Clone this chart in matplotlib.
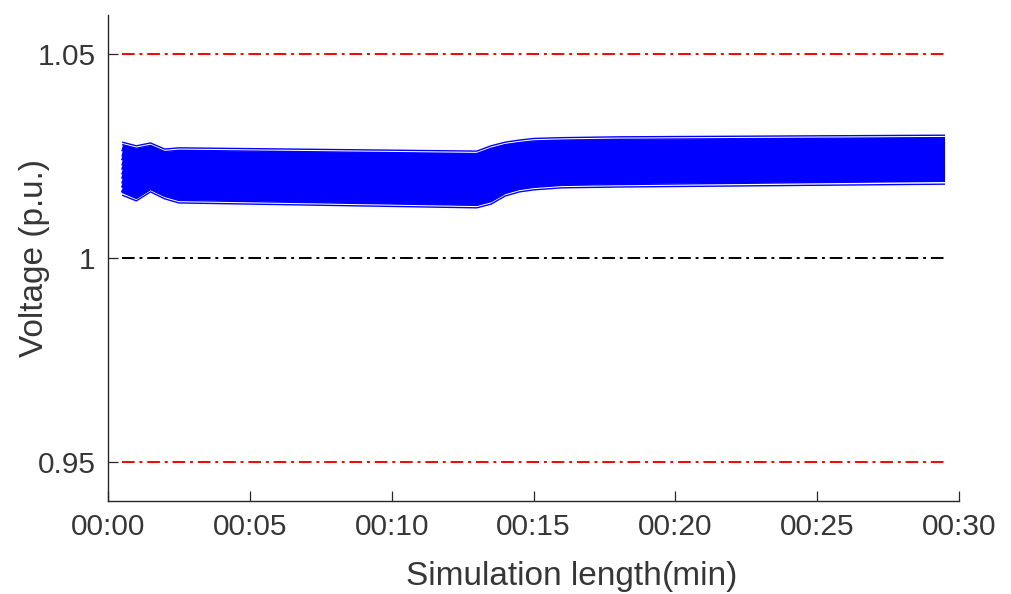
"""
plot.py

Bus voltage profiles over the simulation window, with the
0.95 / 1.05 p.u. limits and the 1.0 p.u. nominal line.
"""

import matplotlib
matplotlib.use("Agg")
import matplotlib.pyplot as plt

plt.rcParams['font.family'] = ['Liberation Sans', 'DejaVu Sans']

# sample times (min) where the profiles change slope
time_min = [0.5, 1.0, 1.5, 2.0, 2.5, 13.0, 13.5, 14.0, 14.5, 15.0, 16.0, 18.0, 29.5]

# outermost buses, drawn thin
v_top_1 = [1.0284, 1.0275, 1.0282, 1.0267, 1.0270, 1.0262, 1.0275, 1.0284, 1.0289, 1.0293, 1.0295, 1.0297, 1.0301]
v_top_2 = [1.0278, 1.0269, 1.0276, 1.0261, 1.0264, 1.0256, 1.0269, 1.0278, 1.0283, 1.0287, 1.0289, 1.0291, 1.0295]
v_bot_2 = [1.0161, 1.0146, 1.0168, 1.0151, 1.0141, 1.0129, 1.0138, 1.0158, 1.0168, 1.0173, 1.0178, 1.0180, 1.0188]
v_bot_1 = [1.0154, 1.0140, 1.0162, 1.0145, 1.0135, 1.0123, 1.0132, 1.0152, 1.0162, 1.0167, 1.0172, 1.0174, 1.0181]

# the dense bulk of the buses
v_core = [
    [1.0270, 1.0260, 1.0267, 1.0252, 1.0255, 1.0248, 1.0260, 1.0270, 1.0275, 1.0278, 1.0281, 1.0282, 1.0287],
    [1.0257, 1.0248, 1.0257, 1.0243, 1.0243, 1.0235, 1.0248, 1.0257, 1.0265, 1.0267, 1.0270, 1.0272, 1.0277],
    [1.0248, 1.0235, 1.0248, 1.0233, 1.0230, 1.0223, 1.0235, 1.0248, 1.0252, 1.0257, 1.0260, 1.0262, 1.0267],
    [1.0235, 1.0225, 1.0238, 1.0221, 1.0221, 1.0211, 1.0223, 1.0235, 1.0243, 1.0245, 1.0250, 1.0250, 1.0257],
    [1.0225, 1.0213, 1.0228, 1.0211, 1.0208, 1.0199, 1.0211, 1.0223, 1.0230, 1.0235, 1.0238, 1.0240, 1.0248],
    [1.0213, 1.0201, 1.0216, 1.0201, 1.0196, 1.0186, 1.0196, 1.0213, 1.0221, 1.0225, 1.0228, 1.0230, 1.0235],
    [1.0203, 1.0189, 1.0206, 1.0191, 1.0184, 1.0174, 1.0184, 1.0201, 1.0208, 1.0213, 1.0218, 1.0221, 1.0225],
    [1.0191, 1.0179, 1.0196, 1.0179, 1.0174, 1.0162, 1.0172, 1.0189, 1.0199, 1.0203, 1.0206, 1.0208, 1.0216],
    [1.0181, 1.0167, 1.0186, 1.0169, 1.0162, 1.0150, 1.0159, 1.0179, 1.0186, 1.0191, 1.0196, 1.0199, 1.0206],
    [1.0169, 1.0154, 1.0176, 1.0159, 1.0150, 1.0137, 1.0147, 1.0167, 1.0176, 1.0181, 1.0186, 1.0189, 1.0196],
]

v_limits = [0.95, 1.05]
v_nominal = 1.0

x_ticks = [0, 5, 10, 15, 20, 25, 30]
x_tick_labels = ["00:00", "00:05", "00:10", "00:15", "00:20", "00:25", "00:30"]
y_ticks = [0.95, 1.0, 1.05]
y_tick_labels = ["0.95", "1", "1.05"]

axcol = "#262626"
txtcol = "#363636"
blue = (0, 0, 1)
dashdot = (0, (6.5, 2.5, 1.5, 2.5))

fig = plt.figure(figsize=(10.11, 5.94), dpi=100)
ax = fig.add_axes([0.1068, 0.157, 0.842, 0.818])

for v in v_core:
    ax.plot(time_min, v, color=blue, lw=4.8, solid_joinstyle='miter',
            solid_capstyle='butt')
for v in (v_top_1, v_top_2, v_bot_2, v_bot_1):
    ax.plot(time_min, v, color=blue, lw=1.0, solid_capstyle='butt')

t_span = [time_min[0], time_min[-1]]
for lim in v_limits:
    ax.plot(t_span, [lim, lim], color='red', lw=1.4, ls=dashdot)
ax.plot(t_span, [v_nominal, v_nominal], color='black', lw=1.4, ls=dashdot)

ax.set_xlim(0, 30)
ax.set_ylim(0.9405, 1.0596)
ax.set_xticks(x_ticks)
ax.set_xticklabels(x_tick_labels)
ax.set_yticks(y_ticks)
ax.set_yticklabels(y_tick_labels)

for side in ('top', 'right'):
    ax.spines[side].set_visible(False)
for side in ('left', 'bottom'):
    ax.spines[side].set_color(axcol)
    ax.spines[side].set_linewidth(1.0)

ax.tick_params(direction='in', length=7, width=0.9, color=axcol,
               labelcolor=txtcol, labelsize=21.5)
ax.tick_params(axis='x', pad=9)
ax.tick_params(axis='y', pad=9)

ax.set_ylabel("Voltage (p.u.)", fontsize=24, color=txtcol)
ax.yaxis.set_label_coords(-0.068, 0.5)
ax.set_xlabel("Simulation length", fontsize=24, color=txtcol)
ax.xaxis.set_label_coords(0.5, -0.125)
# unit tacked on right after the centred label
ax.annotate("(min)", xy=(1, 0), xycoords=ax.xaxis.label, ha='left', va='bottom',
            fontsize=24, color=txtcol)

fig.savefig("out.png", dpi=100)
